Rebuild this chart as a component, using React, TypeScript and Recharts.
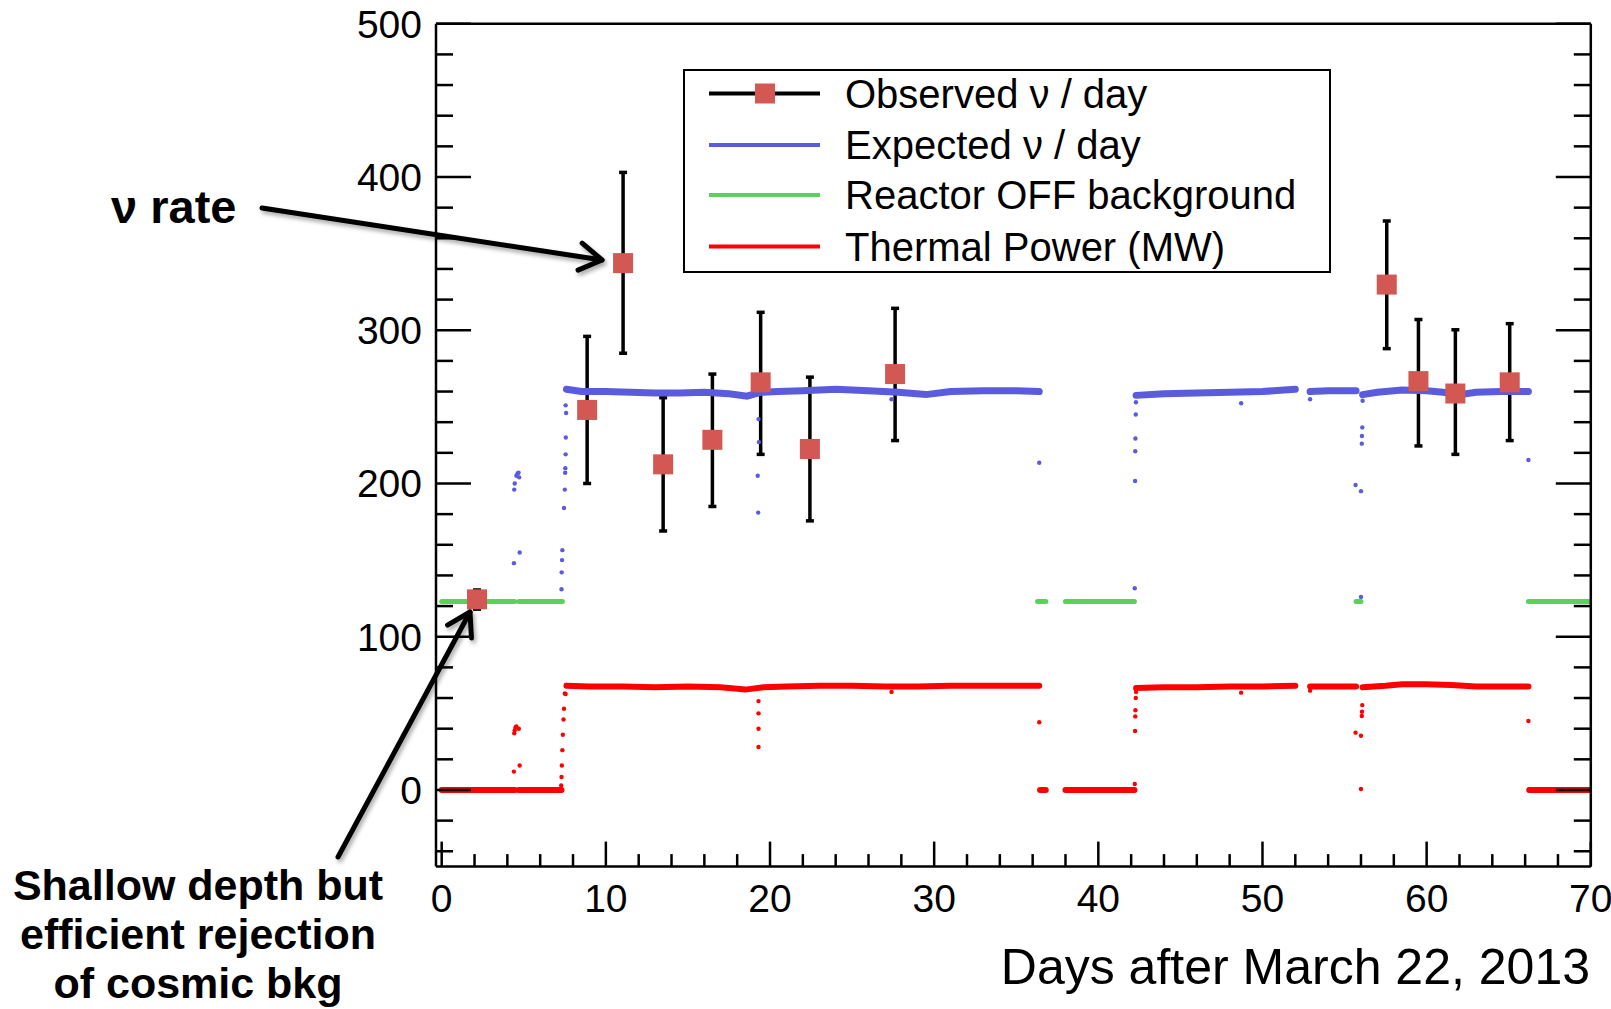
import React from 'react';
import { ComposedChart, Line, Scatter, XAxis, YAxis, ErrorBar, Legend } from 'recharts';

const FONT = '"Liberation Sans", Arial, Helvetica, sans-serif';

const BLUE = '#5b5bde';
const GREEN = '#5ad15a';
const RED = '#ff0000';
const SQUARE = '#d35753';

// observed neutrino rate per day (red squares) with error bar ends
const obsDay = [2.15, 8.86, 11.05, 13.49, 16.49, 19.43, 22.43, 27.62, 57.57, 59.5, 61.75, 65.06];
const obsRate = [124.4, 248, 343.8, 212.5, 228.5, 266, 222.5, 271.4, 329.8, 266.8, 258.7, 266];
const obsLow = [118, 200, 285, 169, 185, 219, 175.6, 228, 288, 224.5, 219, 228];
const obsHigh = [130.5, 296, 403, 256, 271.4, 311.7, 269.4, 314.3, 371.3, 307, 300.3, 304.3];

// expected rate, the dense blue band (null = gap in the data taking)
const expectedBand: [number, number | null][] = [
  [7.6, 261.5], [8.5, 260], [10, 260], [11.5, 259.5], [13, 259], [14.5, 259], [16, 259.5],
  [17.5, 258.5], [18.6, 257], [19.4, 259.5], [20.5, 260], [22, 260.5], [24, 261.5], [26, 260.5],
  [27.8, 259.5], [29.5, 258], [31, 260], [33, 260.5], [35, 260.5], [36.4, 260],
  [37, null],
  [42.3, 257.5], [44, 258.5], [46, 259], [48, 259.5], [50, 260], [52, 261.5],
  [52.4, null],
  [52.9, 260], [54, 260.5], [55.7, 260.5],
  [55.9, null],
  [56.1, 258], [57, 259.5], [58.5, 261], [60, 260.5], [61, 259.5], [62, 258], [63, 259.5],
  [64.5, 260], [66.2, 260],
];

// isolated blue points during ramps and dips
const expectedStray: [number, number][] = [
  [4.4, 148], [4.42, 196], [4.45, 200], [4.55, 205], [4.62, 206.5], [4.68, 207], [4.72, 204], [4.75, 155],
  [7.3, 131], [7.31, 142], [7.33, 150], [7.35, 156.5], [7.45, 184], [7.5, 196], [7.52, 207], [7.53, 210],
  [7.55, 219], [7.56, 230], [7.58, 246], [7.55, 251],
  [19.3, 242], [19.32, 227], [19.25, 205], [19.28, 181],
  [27.4, 255], [36.4, 213.5],
  [42.22, 131.6], [42.24, 201.6], [42.25, 221], [42.26, 229.4], [42.28, 245], [42.29, 253],
  [48.7, 252.4], [52.9, 255],
  [55.67, 199], [56.0, 195], [56.0, 126], [56.05, 226], [56.06, 231], [56.08, 236.6], [56.1, 254],
  [66.2, 215.3],
];

// reactor OFF background (green)
const offBand: [number, number | null][] = [
  [0, 123], [4.45, 123], [4.55, null], [4.7, 123], [7.35, 123], [7.5, null],
  [36.3, 123], [36.8, 123], [37, null], [38, 123], [42.2, 123], [42.25, null],
  [55.7, 123], [56, 123], [56.05, null], [66.2, 123], [70, 123],
];

// thermal power in MW (red)
const powerBand: [number, number | null][] = [
  [0, 0], [4.45, 0], [4.55, null], [4.7, 0], [7.3, 0], [7.45, null],
  [7.6, 68], [9, 67.5], [11, 67.5], [13, 67], [15, 67.5], [17, 67], [18.5, 65.5], [19.6, 67],
  [21, 67.5], [23, 68], [25, 68], [27, 67.5], [29, 67.5], [31, 68], [33, 68], [35, 68], [36.4, 68],
  [36.42, null], [36.45, 0], [36.8, 0], [37, null], [38, 0], [42.2, 0], [42.25, null],
  [42.3, 66.5], [44, 67], [46, 67], [48, 67.5], [50, 67.5], [52, 68], [52.4, null],
  [52.9, 67.5], [54, 67.5], [55.7, 67.5], [55.9, null],
  [56.1, 67], [57.5, 68], [58.5, 69], [60, 69], [61.5, 68.5], [63, 67.5], [64.5, 67.5], [66.2, 67.5],
  [66.22, null], [66.25, 0], [70, 0],
];

const powerStray: [number, number][] = [
  [4.4, 12], [4.42, 37], [4.45, 39], [4.5, 41], [4.55, 41.5], [4.7, 40], [4.75, 16],
  [7.28, 3], [7.3, 8.5], [7.32, 16], [7.35, 26], [7.38, 36], [7.42, 46], [7.45, 53], [7.5, 63],
  [7.55, 62.6], [7.58, 68.5],
  [19.3, 58], [19.3, 50], [19.3, 40], [19.3, 28],
  [27.4, 64], [36.4, 44.2],
  [42.22, 3.9], [42.24, 38.5], [42.25, 48], [42.26, 52], [42.28, 60], [42.3, 64],
  [48.7, 63.5], [52.9, 64.8],
  [55.67, 37.4], [56.0, 35.4], [56.0, 0.6], [56.05, 48.3], [56.06, 51], [56.08, 55.4],
  [66.2, 45],
];

const xTicks = [0, 2, 4, 6, 8, 10, 12, 14, 16, 18, 20, 22, 24, 26, 28, 30, 32, 34, 36, 38, 40,
  42, 44, 46, 48, 50, 52, 54, 56, 58, 60, 62, 64, 66, 68, 70];
const yTicks = [-40, -20, 0, 20, 40, 60, 80, 100, 120, 140, 160, 180, 200, 220, 240, 260, 280,
  300, 320, 340, 360, 380, 400, 420, 440, 460, 480, 500];

const legendItems = [
  { label: 'Observed \u03bd / day', color: '#000', marker: true },
  { label: 'Expected \u03bd / day', color: BLUE, marker: false },
  { label: 'Reactor OFF background', color: GREEN, marker: false },
  { label: 'Thermal Power (MW)', color: RED, marker: false },
];

const toRows = (pts: [number, number | null][]) => pts.map(([day, rate]) => ({ day, rate }));

const observedRows = obsDay.map((day, i) => ({
  day,
  rate: obsRate[i],
  err: [obsRate[i] - obsLow[i], obsHigh[i] - obsRate[i]],
}));

const BottomTick = (props: any) => {
  const { x, y, payload } = props;
  const major = payload.value % 10 === 0;
  return (
    <g>
      <line x1={x} x2={x} y1={y} y2={y - (major ? 25 : 12.5)} stroke="#000" strokeWidth={2.5} />
      {major && (
        <text x={x} y={y + 45} textAnchor="middle" fontSize={39} fontFamily={FONT} fill="#000">
          {payload.value}
        </text>
      )}
    </g>
  );
};

const TopTick = (props: any) => {
  const { x, y, payload } = props;
  const major = payload.value % 10 === 0;
  return <line x1={x} x2={x} y1={y} y2={y + (major ? 25 : 12.5)} stroke="#000" strokeWidth={2.5} />;
};

const LeftTick = (props: any) => {
  const { x, y, payload } = props;
  const major = payload.value % 100 === 0;
  return (
    <g>
      <line x1={x} x2={x + (major ? 35 : 17)} y1={y} y2={y} stroke="#000" strokeWidth={2.5} />
      {major && (
        <text x={x - 14} y={y + 14} textAnchor="end" fontSize={39} fontFamily={FONT} fill="#000">
          {payload.value}
        </text>
      )}
    </g>
  );
};

const RightTick = (props: any) => {
  const { x, y, payload } = props;
  const major = payload.value % 100 === 0;
  return <line x1={x} x2={x - (major ? 35 : 17)} y1={y} y2={y} stroke="#000" strokeWidth={2.5} />;
};

const Dot = (color: string) => (p: any) => <circle cx={p.cx} cy={p.cy} r={2.2} fill={color} />;

const Square = (p: any) => <rect x={p.cx - 10} y={p.cy - 10} width={20} height={20} fill={SQUARE} />;

const LegendBox = () => (
  <svg width={648} height={204} style={{ display: 'block' }}>
    <rect x={1} y={1} width={646} height={202} fill="#fff" stroke="#000" strokeWidth={2} />
    {legendItems.map((it, i) => {
      const cy = [24.5, 76, 126, 177.5][i];
      return (
        <g key={it.label}>
          <line x1={26} x2={137} y1={cy} y2={cy} stroke={it.color} strokeWidth={4} />
          {it.marker && <rect x={72} y={cy - 10} width={20} height={20} fill={SQUARE} />}
          <text x={162} y={cy + 14} fontSize={40} fontFamily={FONT} fill="#000">{it.label}</text>
        </g>
      );
    })}
  </svg>
);

const arrow = (x1: number, y1: number, x2: number, y2: number) => {
  const a = Math.atan2(y2 - y1, x2 - x1);
  const len = 26;
  const s = 0.55;
  const w1 = [x2 - len * Math.cos(a - s), y2 - len * Math.sin(a - s)];
  const w2 = [x2 - len * Math.cos(a + s), y2 - len * Math.sin(a + s)];
  return (
    <g stroke="#000" strokeWidth={5} fill="none" strokeLinecap="round" strokeLinejoin="round" filter="url(#shadow)">
      <line x1={x1} y1={y1} x2={x2} y2={y2} />
      <polyline points={`${w1[0]},${w1[1]} ${x2},${y2} ${w2[0]},${w2[1]}`} />
    </g>
  );
};

// frame axes are 1px thick boxes so they render; margins take that into account
const axisLine = { stroke: '#000', strokeWidth: 2.5 };

export default function App() {
  return (
    <div style={{ position: 'relative', width: 1611, height: 1009, background: '#fff' }}>
      <style>{'body{margin:0;}'}</style>
      <ComposedChart
        width={1611}
        height={1009}
        margin={{ top: 22.75, right: 19.2, bottom: 141.4, left: 435 }}
      >
        <XAxis
          dataKey="day"
          type="number"
          domain={[-0.347, 70]}
          allowDataOverflow
          ticks={xTicks}
          interval={0}
          tickSize={0}
          tickMargin={0}
          height={1}
          axisLine={axisLine}
          tick={BottomTick}
        />
        <XAxis
          xAxisId="top"
          orientation="top"
          type="number"
          domain={[-0.347, 70]}
          allowDataOverflow
          ticks={xTicks}
          interval={0}
          tickSize={0}
          tickMargin={0}
          height={1}
          axisLine={axisLine}
          tick={TopTick}
        />
        <YAxis
          type="number"
          domain={[-50, 500]}
          allowDataOverflow
          ticks={yTicks}
          interval={0}
          tickSize={0}
          tickMargin={0}
          width={1}
          axisLine={axisLine}
          tick={LeftTick}
        />
        <YAxis
          yAxisId="right"
          orientation="right"
          type="number"
          domain={[-50, 500]}
          allowDataOverflow
          ticks={yTicks}
          interval={0}
          tickSize={0}
          tickMargin={0}
          width={1}
          axisLine={axisLine}
          tick={RightTick}
        />
        <Legend
          layout="horizontal"
          verticalAlign="middle"
          align="center"
          wrapperStyle={{ left: 683, top: 69, width: 648, height: 204 }}
          content={LegendBox}
        />
        <Scatter
          name="Observed"
          data={observedRows}
          dataKey="rate"
          shape={Square}
          isAnimationActive={false}
        >
          <ErrorBar dataKey="err" direction="y" width={4} strokeWidth={3.5} stroke="#000" isAnimationActive={false} />
        </Scatter>
        <Line
          data={toRows(expectedBand)}
          dataKey="rate"
          stroke={BLUE}
          strokeWidth={7}
          dot={false}
          type="linear"
          strokeLinecap="round"
          isAnimationActive={false}
        />
        <Scatter data={toRows(expectedStray)} dataKey="rate" shape={Dot(BLUE)} isAnimationActive={false} />
        <Line
          data={toRows(offBand)}
          dataKey="rate"
          stroke={GREEN}
          strokeWidth={5}
          dot={false}
          type="linear"
          strokeLinecap="round"
          isAnimationActive={false}
        />
        <Line
          data={toRows(powerBand)}
          dataKey="rate"
          stroke={RED}
          strokeWidth={6}
          dot={false}
          type="linear"
          strokeLinecap="round"
          isAnimationActive={false}
        />
        <Scatter data={toRows(powerStray)} dataKey="rate" shape={Dot(RED)} isAnimationActive={false} />
      </ComposedChart>

      <svg
        width={1611}
        height={1009}
        style={{ position: 'absolute', left: 0, top: 0, pointerEvents: 'none' }}
        fontFamily={FONT}
      >
        <defs>
          <filter id="shadow" x="-20%" y="-20%" width="140%" height="140%">
            <feDropShadow dx={2} dy={3} stdDeviation={2} floodOpacity={0.35} />
          </filter>
        </defs>
        {arrow(262, 208, 602, 260)}
        {arrow(338, 857, 470, 612)}
        <text x={111} y={223} fontSize={47} fontWeight="bold" fill="#000">{'\u03bd rate'}</text>
        <g fontSize={43} fontWeight="bold" fill="#000" textAnchor="middle">
          <text x={198} y={900}>Shallow depth but</text>
          <text x={198} y={949}>efficient rejection</text>
          <text x={198} y={998}>of cosmic bkg</text>
        </g>
        <text x={1590} y={984} fontSize={50} textAnchor="end" fill="#000">Days after March 22, 2013</text>
      </svg>
    </div>
  );
}
